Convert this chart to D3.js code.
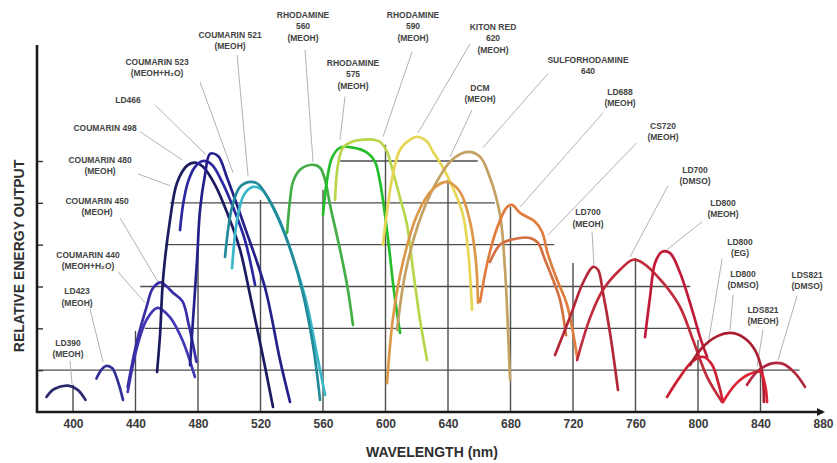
<!DOCTYPE html>
<html>
<head>
<meta charset="utf-8">
<script src="https://cdn.jsdelivr.net/npm/d3@7"></script>
<style>
  body { margin: 0; background: #fff; }
  svg { display: block; }
  text { font-family: "Liberation Sans", Arial, sans-serif; }
</style>
</head>
<body>
<svg id="chart" width="837" height="463"></svg>
<script>
// axis ticks
const xTicks = [400, 440, 480, 520, 560, 600, 640, 680, 720, 760, 800, 840, 880];
const yTicks = [1, 2, 3, 4, 5, 6];

// tuning curves: [wavelength (nm), relative energy output]
const ld390 = [[383, 0.36], [388, 0.55], [397, 0.63], [403, 0.53], [408, 0.29]];
const ld423 = [[415, 0.8], [418, 1.0], [421, 1.1], [425, 1.05], [429, 0.7], [432, 0.29]];
const coumarin440 = [[435, 0.6], [441, 1.7], [447, 2.5], [451, 2.95], [456, 3.1], [460, 3.0], [464, 2.85], [470, 2.65], [474, 2.1], [479, 1.2]];
const coumarin450 = [[435, 0.48], [441, 1.55], [447, 2.2], [454, 2.49], [462, 2.27], [470, 1.72], [478, 0.84]];
const coumarin480 = [[453.8, 0.96], [455.7, 1.84], [457.6, 3.16], [462.1, 4.59], [466.6, 5.48], [473, 5.89], [478.1, 5.96], [483.2, 5.86], [490.9, 5.43], [499.2, 4.71], [506.9, 3.88], [513.3, 2.8], [521.6, 1.32], [528, 0.12]];
const coumarin498 = [[468.5, 4.35], [470.4, 4.95], [473.6, 5.5], [478.1, 5.86], [483.2, 6.0], [488.9, 5.91], [495.4, 5.5], [502.4, 4.9], [510.1, 4.1], [516.5, 3.04]];
const ld466 = [[474.9, 1.12], [476.8, 2.2], [479.4, 3.64], [481.3, 4.83], [484.5, 5.67], [487.7, 6.17], [492.8, 6.12], [498.6, 5.6], [510.1, 4.4], [522.9, 2.97], [532.5, 1.24], [538.9, 0.24]];
const coumarin521 = [[497.3, 3.71], [501.8, 4.9], [506.9, 5.38], [513.3, 5.5], [518.4, 5.45], [524.8, 5.12], [532.5, 4.55], [540.2, 3.76], [546.6, 2.92], [553.6, 1.6], [558.1, 0.29]];
const coumarin523 = [[501.8, 3.44], [505, 4.59], [509.4, 5.19], [515.2, 5.38], [521, 5.31], [528, 4.88], [535.7, 4.23], [543.4, 3.4], [549.8, 2.56], [556.2, 1.36], [561.3, 0.41]];
const rhodamine560 = [[537, 4.28], [538.9, 5.07], [540.8, 5.5], [545.3, 5.79], [553, 5.91], [558.1, 5.84], [561.3, 5.55], [564.5, 4.95], [570.9, 3.88], [575.4, 3.04], [579.2, 2.08]];
const rhodamine575 = [[560, 4.71], [562.6, 5.55], [565.8, 6.08], [570.9, 6.32], [579.2, 6.32], [588.2, 6.2], [593.3, 5.98], [596.5, 5.5], [599, 4.9], [602.2, 3.95], [605.4, 2.9], [609.3, 1.89]];
const rhodamine590 = [[567.7, 5.07], [569.6, 5.91], [572.8, 6.32], [578.6, 6.46], [585.6, 6.51], [592, 6.51], [596.5, 6.46], [601, 6.22], [604.8, 5.74], [609.3, 5.12], [613.8, 4.47], [617.6, 3.4], [622.1, 2.2], [626.6, 1.24]];
const kitonRed620 = [[598.4, 4.0], [601.6, 4.97], [604.8, 5.69], [609.3, 6.27], [615.7, 6.51], [620.2, 6.58], [626.6, 6.46], [630.4, 6.22], [636.8, 5.84], [643.2, 5.36], [649.6, 4.71], [652.8, 3.88], [655.4, 2.44]];
const dcm = [[601, 0.69], [604.8, 2.25], [611.2, 3.59], [620.2, 4.71], [629.8, 5.31], [639.4, 5.5], [647.7, 5.26], [654.1, 4.55], [657.9, 3.59], [659.2, 2.61]];
const sulforhodamine640 = [[607.4, 1.96], [612.5, 3.28], [620.8, 4.47], [631.7, 5.43], [642.6, 6.03], [652.8, 6.22], [660.5, 6.1], [666.9, 5.6], [673.3, 4.71], [676.5, 3.4], [678.4, 1.96], [679.7, 0.77]];
const ld688 = [[660.5, 2.63], [665.6, 3.64], [671.4, 4.4], [677.8, 4.9], [681, 4.95], [686.1, 4.76], [695.7, 4.55], [700.2, 4.31], [704, 3.76], [709.8, 3.16], [716.2, 2.56], [722.6, 1.32]];
const cs720 = [[666.9, 3.59], [673.3, 4.0], [679.7, 4.11], [692.5, 4.16], [697.6, 4.04], [702.1, 3.64], [707.2, 3.16], [711.7, 2.68], [715.5, 1.84]];
const ld700Meoh = [[708.5, 1.36], [718.1, 2.27], [726.4, 3.09], [732.8, 3.47], [736, 3.4], [739.2, 2.85], [743.7, 1.89], [748.8, 0.53]];
const ld700Dmso = [[722.6, 1.24], [730.9, 2.25], [739.2, 2.92], [750.1, 3.4], [758.4, 3.64], [764.8, 3.56], [777.6, 3.09], [788.5, 2.51], [796.8, 1.72], [805.8, 0.84], [815.4, 0.24]];
const ld800Meoh = [[766.1, 1.79], [769.3, 2.75], [772.5, 3.56], [777, 3.83], [782.1, 3.8], [788.5, 3.33], [796.8, 2.37], [801.3, 1.79], [805.8, 1.32]];
const ld800Eg = [[780.2, 0.36], [788.5, 0.84], [796.2, 1.2], [803.2, 1.32], [809, 1.13], [812.8, 0.72], [816, 0.24]];
const ld800Dmso = [[794.9, 1.12], [803.2, 1.56], [812.8, 1.82], [820.5, 1.89], [828.8, 1.79], [836.5, 1.48], [841, 0.96], [842.2, 0.24]];
const lds821Meoh = [[816, 0.24], [823.7, 0.65], [832, 0.89], [839.7, 0.96], [842.9, 0.65], [844.2, 0.24]];
const lds821Dmso = [[831.4, 0.65], [837.8, 0.96], [846.1, 1.15], [854.4, 1.15], [862.1, 0.93], [868.5, 0.6]];

const series = [
  { data: ld390, color: '#2b2a6e' },
  { data: ld423, color: '#302f96' },
  { data: coumarin450, color: '#4236b4' },
  { data: coumarin440, color: '#3a2ea6' },
  { data: coumarin480, color: '#1c1b62' },
  { data: coumarin498, color: '#2a27a0' },
  { data: ld466, color: '#23208a' },
  { data: coumarin523, color: '#3ab8c8' },
  { data: coumarin521, color: '#238a9a' },
  { data: rhodamine560, color: '#44ad46' },
  { data: rhodamine575, color: '#26bd2a' },
  { data: rhodamine590, color: '#b8d64a' },
  { data: kitonRed620, color: '#e6d654' },
  { data: sulforhodamine640, color: '#c4a062' },
  { data: dcm, color: '#dc9848' },
  { data: cs720, color: '#d27040' },
  { data: ld688, color: '#e07c3c' },
  { data: ld700Meoh, color: '#b22838' },
  { data: ld700Dmso, color: '#c02c3c' },
  { data: ld800Meoh, color: '#c01a3a' },
  { data: ld800Eg, color: '#cc2032' },
  { data: ld800Dmso, color: '#a81e30' },
  { data: lds821Meoh, color: '#dc2434' },
  { data: lds821Dmso, color: '#b02840' }
];

// grid: horizontal rows [level, from nm, to nm], vertical columns [nm, top level]
const gridRows = [[1, 378, 865], [2, 446, 801], [3, 443, 795], [4, 459, 708], [5, 462, 670], [6, 571, 659]];
const gridCols = [[400, 0.65], [440, 1.94], [480, 3.88], [520, 5.07], [560, 5.31], [600, 6.39], [640, 5.55], [680, 4.9], [720, 3.56], [760, 3.68], [800, 1.72], [840, 1.12]];

// dye labels: text lines, label centre, leader start and end (nm, level)
const labels = [
  { lines: ['LD390', '(MEOH)'], at: [396.8, 1.65], from: [398.1, 1.22], to: [399.4, 0.67] },
  { lines: ['LD423', '(MEOH)'], at: [402.6, 2.89], from: [410.9, 2.46], to: [419.2, 1.2] },
  { lines: ['COUMARIN 440', '(MEOH+H₂O)'], at: [409.6, 3.76], from: [428.8, 3.35], to: [446.1, 2.61] },
  { lines: ['COUMARIN 450', '(MEOH)'], at: [415.4, 5.05], from: [430.1, 4.64], to: [454.4, 3.11] },
  { lines: ['COUMARIN 480', '(MEOH)'], at: [417.3, 6.03], from: [441.6, 5.69], to: [462.1, 5.41] },
  { lines: ['COUMARIN 498'], at: [420.5, 6.79], from: [442.9, 6.7], to: [469.8, 6.03] },
  { lines: ['LD466'], at: [435.2, 7.46], from: [452.5, 7.34], to: [485.1, 6.15] },
  { lines: ['COUMARIN 523', '(MEOH+H₂O)'], at: [453.8, 8.37], from: [481.3, 7.89], to: [502.4, 5.72] },
  { lines: ['COUMARIN 521', '(MEOH)'], at: [500.5, 9.02], from: [505, 8.54], to: [512, 5.65] },
  { lines: ['RHODAMINE', '560', '(MEOH)'], at: [547.2, 9.5], from: [548.5, 8.66], to: [553.6, 5.98] },
  { lines: ['RHODAMINE', '575', '(MEOH)'], at: [579.2, 8.35], from: [574.1, 7.54], to: [570.9, 6.51] },
  { lines: ['RHODAMINE', '590', '(MEOH)'], at: [617.6, 9.5], from: [617, 8.61], to: [598.4, 6.58] },
  { lines: ['KITON RED', '620', '(MEOH)'], at: [668.8, 9.21], from: [654.1, 8.8], to: [620.8, 6.67] },
  { lines: ['DCM', '(MEOH)'], at: [660.5, 7.75], from: [655.4, 7.22], to: [641.3, 6.1] },
  { lines: ['SULFORHODAMINE', '640'], at: [729.6, 8.42], from: [704, 8.09], to: [662.4, 6.32] },
  { lines: ['LD688', '(MEOH)'], at: [750.1, 7.66], from: [739.2, 7.15], to: [686.1, 4.9] },
  { lines: ['CS720', '(MEOH)'], at: [777.6, 6.84], from: [760.9, 6.44], to: [704, 4.23] },
  { lines: ['LD700', '(DMSO)'], at: [798.1, 5.79], from: [780.8, 5.41], to: [756.5, 3.71] },
  { lines: ['LD800', '(MEOH)'], at: [816, 5.0], from: [802.6, 4.55], to: [780.2, 3.88] },
  { lines: ['LD700', '(MEOH)'], at: [729.6, 4.78], from: [732.2, 4.31], to: [733.4, 3.52] },
  { lines: ['LD800', '(EG)'], at: [826.9, 4.07], from: [815.4, 3.66], to: [806.4, 1.6] },
  { lines: ['LD800', '(DMSO)'], at: [828.8, 3.3], from: [822.4, 2.8], to: [820.5, 1.96] },
  { lines: ['LDS821', '(MEOH)'], at: [841.6, 2.44], from: [841.6, 1.96], to: [837.8, 1.08] },
  { lines: ['LDS821', '(DMSO)'], at: [869.8, 3.28], from: [863.4, 2.78], to: [851.2, 1.24] }
];

const svg = d3.select('#chart');

const x = d3.scaleLinear().domain([400, 880]).range([73, 823]);
const y = d3.scaleLinear().domain([0, 6]).range([412, 161]);

// grid
svg.append('g')
  .selectAll('line')
  .data(gridRows)
  .join('line')
  .attr('x1', d => x(d[1]))
  .attr('x2', d => x(d[2]))
  .attr('y1', d => y(d[0]))
  .attr('y2', d => y(d[0]))
  .attr('stroke', '#4d4d4d')
  .attr('stroke-width', 1.4);

svg.append('g')
  .selectAll('line')
  .data(gridCols)
  .join('line')
  .attr('x1', d => x(d[0]))
  .attr('x2', d => x(d[0]))
  .attr('y1', y(0))
  .attr('y2', d => y(d[1]))
  .attr('stroke', '#4d4d4d')
  .attr('stroke-width', 1.4);

// leader lines
svg.append('g')
  .selectAll('line')
  .data(labels)
  .join('line')
  .attr('x1', d => x(d.from[0]))
  .attr('y1', d => y(d.from[1]))
  .attr('x2', d => x(d.to[0]))
  .attr('y2', d => y(d.to[1]))
  .attr('stroke', '#a9a9a9')
  .attr('stroke-width', 0.9);

// curves
const line = d3.line()
  .x(d => x(d[0]))
  .y(d => y(d[1]))
  .curve(d3.curveCatmullRom.alpha(0.5));

svg.append('g')
  .selectAll('path')
  .data(series)
  .join('path')
  .attr('d', d => line(d.data))
  .attr('fill', 'none')
  .attr('stroke', d => d.color)
  .attr('stroke-width', 2.7)
  .attr('stroke-linecap', 'round')
  .attr('stroke-linejoin', 'round');

// axes
const xAxis = svg.append('g')
  .attr('transform', `translate(0,${y(0)})`)
  .call(d3.axisBottom(x).tickValues(xTicks).tickSize(0).tickPadding(7));
xAxis.select('.domain').remove();
xAxis.selectAll('text')
  .attr('font-size', 12)
  .attr('font-weight', 'bold')
  .attr('fill', '#3a3a3a')
  .style('font-family', '"Liberation Sans", Arial, sans-serif');

const yAxis = svg.append('g')
  .attr('transform', 'translate(37,0)')
  .call(d3.axisLeft(y).tickValues(yTicks).tickSize(-6).tickFormat(''));
yAxis.select('.domain').remove();
yAxis.selectAll('.tick line').attr('stroke', '#333').attr('stroke-width', 1.4);

svg.append('line')
  .attr('x1', 37).attr('x2', 37)
  .attr('y1', 45).attr('y2', y(0) + 1)
  .attr('stroke', '#1a1a1a').attr('stroke-width', 2.6);

svg.append('line')
  .attr('x1', 36).attr('x2', x(880))
  .attr('y1', y(0)).attr('y2', y(0))
  .attr('stroke', '#1a1a1a').attr('stroke-width', 2.6);

svg.append('path')
  .attr('d', `M${x(880) + 2},${y(0)} l-8,-4 l0,8 z`)
  .attr('fill', '#1a1a1a');

// axis titles
svg.append('text')
  .attr('x', 432).attr('y', 457)
  .attr('text-anchor', 'middle')
  .attr('font-size', 14)
  .attr('font-weight', 'bold')
  .attr('fill', '#2e2e2e')
  .text('WAVELENGTH (nm)');

svg.append('text')
  .attr('transform', 'translate(24,256) rotate(-90)')
  .attr('text-anchor', 'middle')
  .attr('font-size', 14)
  .attr('font-weight', 'bold')
  .attr('fill', '#2e2e2e')
  .text('RELATIVE ENERGY OUTPUT');

// dye labels
const lbl = svg.append('g')
  .selectAll('text')
  .data(labels)
  .join('text')
  .attr('text-anchor', 'middle')
  .attr('font-size', 8.5)
  .attr('font-weight', 'bold')
  .attr('fill', '#444');

lbl.selectAll('tspan')
  .data(d => d.lines.map((t, i) => ({ t, i, at: d.at })))
  .join('tspan')
  .attr('x', d => x(d.at[0]))
  .attr('y', d => y(d.at[1]) + d.i * 11.5 + 3)
  .text(d => d.t);
</script>
</body>
</html>
